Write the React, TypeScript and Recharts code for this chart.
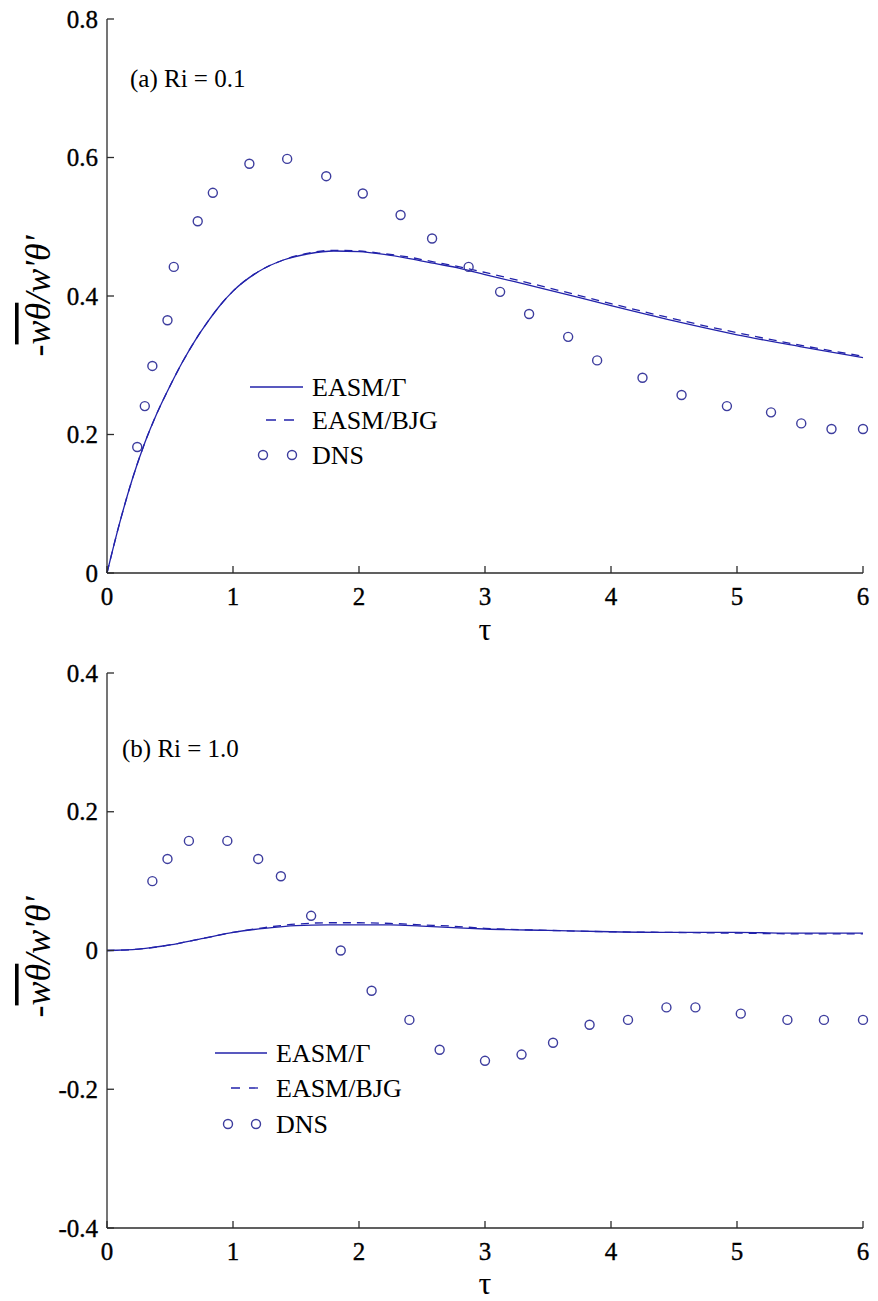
import React from 'react';
import { ComposedChart, Line, Scatter, XAxis, YAxis, Customized } from 'recharts';

// ---------- data ----------
const xTicks = [0, 1, 2, 3, 4, 5, 6];
const yTicksA = [0, 0.2, 0.4, 0.6, 0.8];
const yTicksB = [-0.4, -0.2, 0, 0.2, 0.4];
const seriesNames = ['EASM/Γ', 'EASM/BJG', 'DNS'];

// Panel (a) Ri = 0.1
const modelTauA = [0, 0.1, 0.2, 0.3, 0.4, 0.5, 0.6, 0.7, 0.8, 0.9, 1.0, 1.2, 1.4, 1.6, 1.8, 2.0, 2.2, 2.4, 2.6, 2.8, 3.0, 3.5, 4.0, 4.5, 5.0, 5.5, 6.0];
const easmGammaA = [0, 0.072, 0.135, 0.188, 0.232, 0.27, 0.305, 0.336, 0.363, 0.387, 0.407, 0.435, 0.452, 0.461, 0.465, 0.464, 0.46, 0.454, 0.447, 0.44, 0.431, 0.409, 0.386, 0.364, 0.344, 0.327, 0.311];
const easmBjgA = [0, 0.072, 0.135, 0.188, 0.232, 0.27, 0.305, 0.336, 0.363, 0.387, 0.407, 0.435, 0.452, 0.462, 0.466, 0.465, 0.461, 0.456, 0.449, 0.442, 0.434, 0.412, 0.389, 0.367, 0.347, 0.329, 0.313];
const dnsTauA = [0.24, 0.30, 0.36, 0.48, 0.53, 0.72, 0.84, 1.13, 1.43, 1.74, 2.03, 2.33, 2.58, 2.87, 3.12, 3.35, 3.66, 3.89, 4.25, 4.56, 4.92, 5.27, 5.51, 5.75, 6.0];
const dnsValA = [0.182, 0.241, 0.299, 0.365, 0.442, 0.508, 0.549, 0.591, 0.598, 0.573, 0.548, 0.517, 0.483, 0.442, 0.406, 0.374, 0.341, 0.307, 0.282, 0.257, 0.241, 0.232, 0.216, 0.208, 0.208];

// Panel (b) Ri = 1.0
const modelTauB = [0, 0.25, 0.5, 0.75, 1.0, 1.25, 1.5, 1.75, 2.0, 2.25, 2.5, 2.75, 3.0, 3.5, 4.0, 4.5, 5.0, 5.5, 6.0];
const easmGammaB = [0, 0.002, 0.008, 0.017, 0.026, 0.032, 0.036, 0.037, 0.037, 0.037, 0.035, 0.033, 0.031, 0.029, 0.027, 0.026, 0.026, 0.025, 0.025];
const easmBjgB = [0, 0.002, 0.008, 0.017, 0.026, 0.033, 0.038, 0.040, 0.040, 0.039, 0.037, 0.035, 0.032, 0.029, 0.027, 0.026, 0.025, 0.024, 0.024];
const dnsTauB = [0.36, 0.48, 0.65, 0.955, 1.2, 1.38, 1.62, 1.855, 2.10, 2.40, 2.64, 3.0, 3.29, 3.54, 3.83, 4.135, 4.44, 4.67, 5.03, 5.40, 5.69, 6.0];
const dnsValB = [0.100, 0.132, 0.158, 0.158, 0.132, 0.107, 0.050, 0.0, -0.058, -0.100, -0.143, -0.159, -0.150, -0.133, -0.107, -0.100, -0.082, -0.082, -0.091, -0.100, -0.100, -0.100];

const zip = (xs: number[], ys: number[]) => xs.map((x, i) => ({ x, y: ys[i] }));

// ---------- style ----------
const SERIF = "'Liberation Serif', 'Times New Roman', serif";
const LINE_COLOR = '#2222aa';
const DOT_COLOR = '#3d3d9e';
const AXIS_COLOR = '#2b2b2b';
const TICK_LEN = 7;
const tickText = { fontFamily: SERIF, fontSize: 25 };

const LeftTick = (props: any) => {
  const { x, y, payload } = props;
  return (
    <g>
      <line x1={x} x2={x + TICK_LEN} y1={y} y2={y} stroke={AXIS_COLOR} strokeWidth={1.3} />
      <text x={x - 9} y={y + 8.5} textAnchor="end" style={tickText} fill="#000" stroke="#000" strokeWidth={0.35}>
        {String(payload.value)}
      </text>
    </g>
  );
};
const BottomTick = (props: any) => {
  const { x, y, payload } = props;
  return (
    <g>
      <line x1={x} x2={x} y1={y} y2={y - TICK_LEN} stroke={AXIS_COLOR} strokeWidth={1.3} />
      <text x={x} y={y + 32} textAnchor="middle" style={tickText} fill="#000" stroke="#000" strokeWidth={0.35}>
        {String(payload.value)}
      </text>
    </g>
  );
};
const TopTick = (props: any) => {
  const { x, y } = props;
  return <line x1={x} x2={x} y1={y} y2={y + TICK_LEN} stroke={AXIS_COLOR} strokeWidth={1.3} />;
};
const RightTick = (props: any) => {
  const { x, y } = props;
  return <line x1={x} x2={x - TICK_LEN} y1={y} y2={y} stroke={AXIS_COLOR} strokeWidth={1.3} />;
};

const OpenCircle = (props: any) => {
  const { cx, cy } = props;
  if (cx == null || cy == null) return null;
  return <circle cx={cx} cy={cy} r={4.5} fill="none" stroke={DOT_COLOR} strokeWidth={1.4} />;
};

type PanelProps = {
  height: number;
  margin: { top: number; right: number; bottom: number; left: number };
  yDomain: [number, number];
  yTicks: number[];
  gamma: { x: number; y: number }[];
  bjg: { x: number; y: number }[];
  dns: { x: number; y: number }[];
  title: string;
  titleX: number;
  titleY: number;
  legend: { rows: number[]; lineX: [number, number]; dashX: [number, number]; dash: string; dotX: [number, number]; textX: number };
  yLabelCy: number;
  tauY: number;
};

const Panel = (p: PanelProps) => {
  const axisLine = { stroke: AXIS_COLOR, strokeWidth: 1.3 };
  return (
    <ComposedChart width={878} height={p.height} margin={p.margin}>
      <XAxis
        xAxisId="b"
        dataKey="x"
        type="number"
        domain={[0, 6]}
        ticks={xTicks}
        interval={0}
        height={40}
        tickSize={0}
        tickMargin={0}
        tickLine={false}
        axisLine={axisLine}
        tick={<BottomTick />}
      />
      <XAxis
        xAxisId="t"
        orientation="top"
        type="number"
        domain={[0, 6]}
        ticks={xTicks}
        interval={0}
        height={0}
        tickSize={0}
        tickMargin={0}
        tickLine={false}
        axisLine={axisLine}
        tick={<TopTick />}
      />
      <YAxis
        yAxisId="l"
        dataKey="y"
        type="number"
        domain={p.yDomain}
        ticks={p.yTicks}
        interval={0}
        width={60}
        tickSize={0}
        tickMargin={0}
        tickLine={false}
        axisLine={axisLine}
        tick={<LeftTick />}
      />
      <YAxis
        yAxisId="r"
        orientation="right"
        type="number"
        domain={p.yDomain}
        ticks={p.yTicks}
        interval={0}
        width={0}
        tickSize={0}
        tickMargin={0}
        tickLine={false}
        axisLine={axisLine}
        tick={<RightTick />}
      />
      <Line
        xAxisId="b"
        yAxisId="l"
        data={p.bjg}
        dataKey="y"
        type="monotone"
        stroke={LINE_COLOR}
        strokeWidth={1.3}
        strokeDasharray="8 6"
        dot={false}
        activeDot={false}
        isAnimationActive={false}
        name={seriesNames[1]}
      />
      <Line
        xAxisId="b"
        yAxisId="l"
        data={p.gamma}
        dataKey="y"
        type="monotone"
        stroke={LINE_COLOR}
        strokeWidth={1.3}
        dot={false}
        activeDot={false}
        isAnimationActive={false}
        name={seriesNames[0]}
      />
      <Scatter
        xAxisId="b"
        yAxisId="l"
        data={p.dns}
        dataKey="y"
        shape={<OpenCircle />}
        isAnimationActive={false}
        name={seriesNames[2]}
      />
      <Customized
        component={() => (
          <g fill="#000">
            <text x={p.titleX} y={p.titleY} style={{ fontFamily: SERIF, fontSize: 25 }}>{p.title}</text>
            <text x={485} y={p.tauY} textAnchor="middle" style={{ fontFamily: SERIF, fontSize: 32 }}>τ</text>
            <text
              x={50}
              y={p.yLabelCy}
              transform={`rotate(-90, 50, ${p.yLabelCy})`}
              textAnchor="middle"
              style={{ fontFamily: SERIF, fontSize: 36, fontStyle: 'italic' }}
            >
              -<tspan style={{ textDecoration: 'overline' }}>wθ</tspan>/w'θ'
            </text>
            {/* legend */}
            <line x1={p.legend.lineX[0]} x2={p.legend.lineX[1]} y1={p.legend.rows[0]} y2={p.legend.rows[0]} stroke={LINE_COLOR} strokeWidth={1.3} />
            <line x1={p.legend.dashX[0]} x2={p.legend.dashX[1]} y1={p.legend.rows[1]} y2={p.legend.rows[1]} stroke={LINE_COLOR} strokeWidth={1.3} strokeDasharray={p.legend.dash} />
            <circle cx={p.legend.dotX[0]} cy={p.legend.rows[2]} r={4.5} fill="none" stroke={DOT_COLOR} strokeWidth={1.4} />
            <circle cx={p.legend.dotX[1]} cy={p.legend.rows[2]} r={4.5} fill="none" stroke={DOT_COLOR} strokeWidth={1.4} />
            {seriesNames.map((n, i) => (
              <text key={n} x={p.legend.textX} y={p.legend.rows[i] + 9} style={{ fontFamily: SERIF, fontSize: 26 }}>{n}</text>
            ))}
          </g>
        )}
      />
    </ComposedChart>
  );
};

export default function App() {
  return (
    <div style={{ position: 'absolute', left: 0, top: 0, width: 878, height: 1301, background: '#fff' }}>
      <Panel
        height={650}
        margin={{ top: 19, right: 15, bottom: 37, left: 47 }}
        yDomain={[0, 0.8]}
        yTicks={yTicksA}
        gamma={zip(modelTauA, easmGammaA)}
        bjg={zip(modelTauA, easmBjgA)}
        dns={zip(dnsTauA, dnsValA)}
        title="(a) Ri = 0.1"
        titleX={130}
        titleY={87}
        legend={{ rows: [387, 420, 455], lineX: [250, 303], dashX: [266, 294], dash: '10 8', dotX: [263, 292], textX: 312 }}
        yLabelCy={296}
        tauY={640}
      />
      <Panel
        height={651}
        margin={{ top: 23, right: 15, bottom: 33, left: 47 }}
        yDomain={[-0.4, 0.4]}
        yTicks={yTicksB}
        gamma={zip(modelTauB, easmGammaB)}
        bjg={zip(modelTauB, easmBjgB)}
        dns={zip(dnsTauB, dnsValB)}
        title="(b) Ri = 1.0"
        titleX={122}
        titleY={107}
        legend={{ rows: [403, 438, 474], lineX: [215, 267], dashX: [231, 258], dash: '9 9', dotX: [228, 256], textX: 276 }}
        yLabelCy={307}
        tauY={644}
      />
    </div>
  );
}
